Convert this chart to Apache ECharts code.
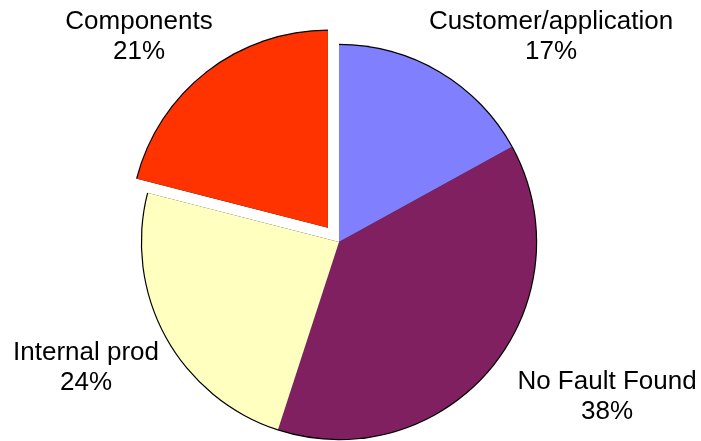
<!DOCTYPE html>
<html><head><meta charset="utf-8">
<script src="https://cdn.jsdelivr.net/npm/echarts@6/dist/echarts.min.js"></script>
<style>html,body{margin:0;padding:0;background:#fff}#c{width:701px;height:441px}</style>
</head><body><div id="c"></div>
<script>
const categories = ['Customer/application', 'No Fault Found', 'Internal prod', 'Components'];
const values = [17, 38, 24, 21];
const colors = ['#8080FF', '#802060', '#FFFFC0', '#FF3300'];
const exploded = ['Components'];
const labelCenters = [[551, 37], [607, 397], [86, 368], [139, 37]]; // label block centres (text placement only)

const chart = echarts.init(document.getElementById('c'), null, {renderer: 'canvas'});
const C = [339, 242];
const R = 197;
const OFF = 18;
const NONE = 'rgba(0,0,0,0)';

// offset of exploded slice along its mid angle (clockwise from 12 o'clock)
const total = values.reduce((a, b) => a + b, 0);
let acc = 0, midAngle = 0;
categories.forEach((c, i) => {
  if (exploded.includes(c)) midAngle = (acc + values[i] / 2) / total * 2 * Math.PI;
  acc += values[i];
});
const C2 = [C[0] + Math.sin(midAngle) * OFF, C[1] - Math.cos(midAngle) * OFF];

function mkData(fillFn) {
  return categories.map((c, i) => ({name: c, value: values[i], itemStyle: {color: fillFn(c, i)}}));
}
const base = {
  type: 'pie', startAngle: 90, clockwise: true, silent: true, selectedMode: false,
  emphasis: {disabled: true}, labelLine: {show: false}, label: {show: false},
  itemStyle: {borderWidth: 0}
};
chart.setOption({
  animation: false,
  series: [
    Object.assign({}, base, {center: C, radius: R + 1.2,
      data: mkData(c => exploded.includes(c) ? NONE : '#000')}),
    Object.assign({}, base, {center: C2, radius: R + 1.2,
      data: mkData(c => exploded.includes(c) ? '#000' : NONE)}),
    Object.assign({}, base, {center: C2, radius: R,
      data: mkData((c, i) => exploded.includes(c) ? colors[i] : NONE)}),
    Object.assign({}, base, {center: C, radius: R,
      data: mkData((c, i) => exploded.includes(c) ? NONE : colors[i]),
      label: {
        show: true, position: 'outside', overflow: 'none',
        formatter: p => p.name + '\n' + p.percent.toFixed(0) + '%',
        fontFamily: 'Liberation Sans, Arial, sans-serif', fontSize: 26,
        lineHeight: 30, color: '#000', align: 'center'
      },
      labelLayout: p => {
        const c = labelCenters[p.dataIndex];
        return {x: c[0], y: c[1], align: 'center', verticalAlign: 'middle', hideOverlap: false};
      }
    })
  ]
});
</script></body></html>
